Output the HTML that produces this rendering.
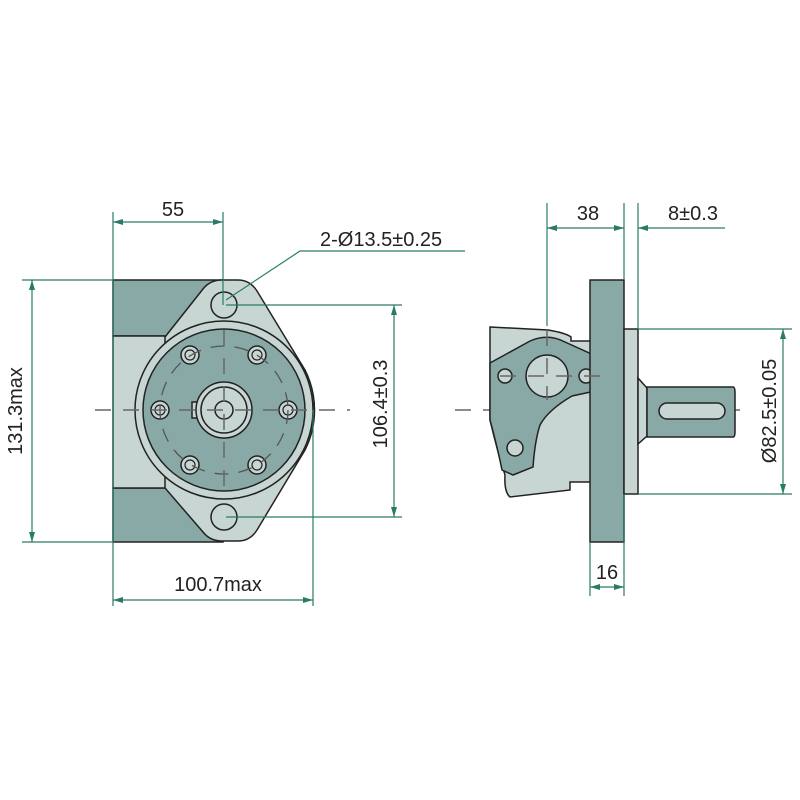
<!DOCTYPE html>
<html><head><meta charset="utf-8"><style>
html,body{margin:0;padding:0;background:#fff;}
svg{display:block;}
text{font-family:"Liberation Sans",sans-serif;font-size:20px;fill:#222;}
</style></head><body>
<svg width="800" height="800" viewBox="0 0 800 800" xmlns="http://www.w3.org/2000/svg">
<defs>
<marker id="a" viewBox="0 0 10 6" refX="10" refY="3" markerWidth="10" markerHeight="6" orient="auto-start-reverse" markerUnits="userSpaceOnUse"><path d="M0,0 L10,3 L0,6 Z" fill="#2b7a66"/></marker>
</defs>
<g stroke="#222" stroke-width="1.5">
<!-- LEFT VIEW -->
<rect x="113" y="280" width="110" height="56" fill="#88a9a6"/>
<rect x="113" y="488" width="110" height="54" fill="#88a9a6"/>
<rect x="113" y="336" width="110" height="152" fill="#c8d6d3"/>
<path d="M165,337 L203,289 Q210,280 222,280 L238,280 Q250,280 257,291 L305,370 A89 89 0 0 1 305,450 L257,530 Q250,541 238,541 L222,541 Q210,541 203,532 L165,488 Z" fill="#c8d6d3"/>
<circle cx="224" cy="410" r="89" fill="#c8d6d3"/>
<circle cx="224" cy="410" r="81" fill="#88a9a6"/>
<circle cx="224" cy="305" r="13" fill="#c8d6d3"/>
<circle cx="224" cy="517" r="13" fill="#c8d6d3"/>
<g fill="#c8d6d3">
<circle cx="160" cy="410" r="9"/><circle cx="288" cy="410" r="9"/>
<circle cx="190" cy="355" r="9"/><circle cx="257" cy="355" r="9"/>
<circle cx="190" cy="465" r="9"/><circle cx="257" cy="465" r="9"/>
</g>
<g fill="none" stroke-width="1.2">
<circle cx="160" cy="410" r="5"/><circle cx="288" cy="410" r="5"/>
<circle cx="190" cy="355" r="5"/><circle cx="257" cy="355" r="5"/>
<circle cx="190" cy="465" r="5"/><circle cx="257" cy="465" r="5"/>
</g>
<rect x="192" y="402" width="8" height="16" fill="#c8d6d3"/>
<circle cx="224" cy="410" r="28" fill="#c8d6d3"/>
<circle cx="224" cy="410" r="23" fill="#c8d6d3"/>
<circle cx="224" cy="410" r="9" fill="#c8d6d3"/>
</g>
<g stroke="#555" stroke-width="1.3" fill="none" stroke-dasharray="14,10">
<circle cx="224" cy="410" r="64"/>
</g>
<g stroke="#666" stroke-width="1.5" stroke-dasharray="16,12">
<line x1="95" y1="410" x2="350" y2="410"/>
<line x1="224" y1="330" x2="224" y2="495"/>
<line x1="455" y1="410" x2="740" y2="410"/>
</g>
<!-- RIGHT VIEW -->
<g stroke="#222" stroke-width="1.5">
<path d="M591,311 L600,311 L600,341 L591,341 Z M591,482 L600,482 L600,512 L591,512 Z" fill="#c8d6d3"/>
<path d="M490,327 L548,330 Q566,333 571,337 L571,341 L600,341 L600,482 L570,482 L570,490 L510,497 Q504,492 505,475 Q497,450 490,420 Z" fill="#c8d6d3"/>
<path d="M490,363 L530,341 Q548,333 565,342 L598,357 Q606,372 600,390 L572,396 Q548,410 540,425 Q535,440 533,467 L513,475 L502,470 Q498,450 490,420 Z" fill="#88a9a6"/>
<circle cx="547" cy="376" r="21" fill="#c8d6d3"/>
<circle cx="505" cy="376" r="7" fill="#c8d6d3"/>
<circle cx="586" cy="376" r="7" fill="#c8d6d3"/>
<circle cx="515" cy="448" r="8" fill="#c8d6d3"/>
<rect x="590" y="280" width="34" height="262" fill="#88a9a6"/>
<rect x="624" y="329" width="14" height="165" fill="#c8d6d3"/>
<path d="M638,378 L647,388 L647,436 L638,444 Z" fill="#c8d6d3"/>
<path d="M647,387 L733,387 Q735,387 735,392 L735,432 Q735,437 733,437 L647,437 Z" fill="#88a9a6"/>
<rect x="659" y="403" width="66" height="16" rx="8" fill="#c8d6d3"/>
</g>
<g stroke="#666" stroke-width="1.5" stroke-dasharray="16,12">
<line x1="547" y1="330" x2="547" y2="400"/>
<line x1="500" y1="376" x2="600" y2="376"/>
</g>
<!-- DIMENSIONS -->
<g stroke="#2b7a66" stroke-width="1.2" fill="none">
<line x1="113" y1="212" x2="113" y2="606"/>
<line x1="223" y1="212" x2="223" y2="305"/>
<line x1="113" y1="222" x2="223" y2="222" marker-start="url(#a)" marker-end="url(#a)"/>
<polyline points="226,300 300,251 465,251"/>
<line x1="22" y1="280" x2="113" y2="280"/>
<line x1="22" y1="542" x2="113" y2="542"/>
<line x1="32" y1="280" x2="32" y2="542" marker-start="url(#a)" marker-end="url(#a)"/>
<line x1="226" y1="305" x2="402" y2="305"/>
<line x1="226" y1="517" x2="402" y2="517"/>
<line x1="394" y1="305" x2="394" y2="517" marker-start="url(#a)" marker-end="url(#a)"/>
<line x1="313" y1="410" x2="313" y2="606"/>
<line x1="113" y1="600" x2="313" y2="600" marker-start="url(#a)" marker-end="url(#a)"/>
<line x1="547" y1="203" x2="547" y2="326"/>
<line x1="624" y1="203" x2="624" y2="280"/>
<line x1="638" y1="203" x2="638" y2="329"/>
<line x1="547" y1="228" x2="624" y2="228" marker-start="url(#a)" marker-end="url(#a)"/>
<line x1="725" y1="228" x2="638" y2="228" marker-end="url(#a)"/>
<line x1="638" y1="329" x2="792" y2="329"/>
<line x1="638" y1="494" x2="792" y2="494"/>
<line x1="783" y1="329" x2="783" y2="494" marker-start="url(#a)" marker-end="url(#a)"/>
<line x1="590" y1="542" x2="590" y2="596"/>
<line x1="624" y1="494" x2="624" y2="596"/>
<line x1="590" y1="587" x2="624" y2="587" marker-start="url(#a)" marker-end="url(#a)"/>
</g>
<text x="173" y="216" text-anchor="middle">55</text>
<text x="320" y="246">2-Ø13.5±0.25</text>
<text x="218" y="591" text-anchor="middle">100.7max</text>
<text transform="translate(22,411) rotate(-90)" text-anchor="middle">131.3max</text>
<text transform="translate(387,404) rotate(-90)" text-anchor="middle">106.4±0.3</text>
<text transform="translate(776,411) rotate(-90)" text-anchor="middle">Ø82.5±0.05</text>
<text x="588" y="220" text-anchor="middle">38</text>
<text x="693" y="220" text-anchor="middle">8±0.3</text>
<text x="607" y="579" text-anchor="middle">16</text>
</svg>
</body></html>
